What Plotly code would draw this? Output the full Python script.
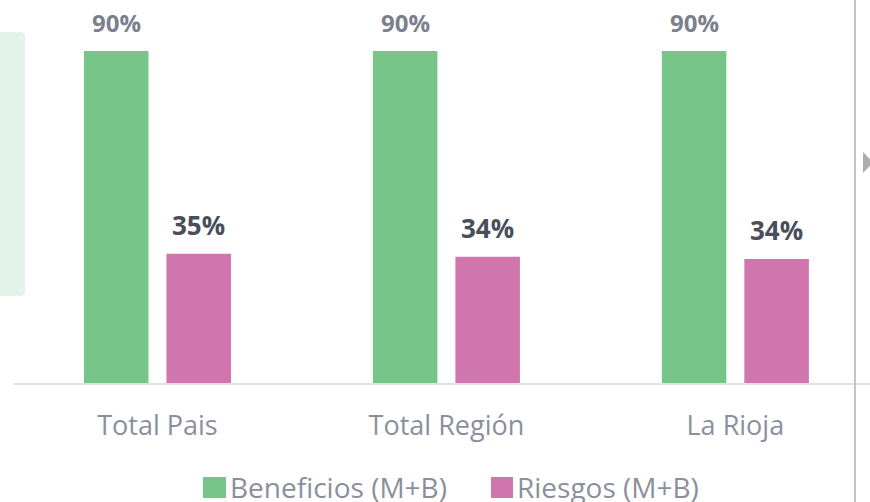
import plotly.graph_objects as go

# ---- data ----
categories = ["Total Pais", "Total Región", "La Rioja"]
beneficios = [90, 90, 90]
riesgos = [35.0, 34.2, 33.6]
series_names = ["Beneficios (M+B)", "Riesgos (M+B)"]

# ---- style ----
W, H = 870, 502
ML, MR, MT, MB = 13, 0, 0, 119
GREEN = "#78C589"
PINK = "#D175AF"
TICK_COL = "#8B8F9D"
FONT = "Open Sans, Liberation Sans, sans-serif"
BARGAP = 0.4288
GROUPGAP = 0.218
XMAX = 2.466
YMAX = 103.8

PW = W - ML - MR
PH = H - MT - MB


def px(xp):
    return (xp - ML) / PW


def py(yp):
    return (H - MB - yp) / PH


fig = go.Figure()
fig.add_trace(go.Bar(x=categories, y=beneficios, name=series_names[0],
                     marker=dict(color=GREEN, line=dict(width=0)), showlegend=False))
fig.add_trace(go.Bar(x=categories, y=riesgos, name=series_names[1],
                     marker=dict(color=PINK, line=dict(width=0)), showlegend=False))

# value labels above bars
off = (1 - BARGAP) / 4
annotations = []
for i, v in enumerate(beneficios):
    annotations.append(dict(x=i - off, y=v, xref="x", yref="y", text=f"{v:.0f}%",
                            showarrow=False, yanchor="middle", yshift=28,
                            font=dict(family=FONT, size=24, color="#7B808C", weight="bold")))
for i, v in enumerate(riesgos):
    annotations.append(dict(x=i + off, y=v, xref="x", yref="y", text=f"{v:.0f}%",
                            showarrow=False, yanchor="middle", yshift=29,
                            font=dict(family=FONT, size=26, color="#4A4E5A", weight="bold")))

# manual legend
legend_items = [(series_names[0], GREEN, 203, 226), (series_names[1], PINK, 491, 513)]
shapes = []
for name, col, x0, x1 in legend_items:
    shapes.append(dict(type="rect", xref="paper", yref="paper",
                       x0=px(x0), x1=px(x1), y0=py(498), y1=py(477),
                       fillcolor=col, line=dict(width=0)))
    annotations.append(dict(x=px(x1 + 2), y=py(487), xref="paper", yref="paper",
                            text=name, showarrow=False, xanchor="left", yanchor="middle",
                            font=dict(family=FONT, size=28, color=TICK_COL)))

# left panel (rounded right corners)
r_x = 5 / PW
r_y = 5 / PH
lx0, lx1 = px(-20), px(25)
ly0, ly1 = py(296), py(32)
panel_path = (f"M{lx0},{ly1} L{lx1 - r_x},{ly1} Q{lx1},{ly1} {lx1},{ly1 - r_y} "
              f"L{lx1},{ly0 + r_y} Q{lx1},{ly0} {lx1 - r_x},{ly0} L{lx0},{ly0} Z")
shapes.append(dict(type="path", xref="paper", yref="paper", path=panel_path,
                   fillcolor="#E3F3E9", line=dict(width=0), layer="below"))

# right divider line
shapes.append(dict(type="line", xref="paper", yref="paper",
                   x0=px(855), x1=px(855), y0=py(0), y1=py(H),
                   line=dict(color="#C4C4C4", width=2)))
# small triangle
tri = f"M{px(863)},{py(152)} L{px(873)},{py(162.5)} L{px(863)},{py(173)} Z"
shapes.append(dict(type="path", xref="paper", yref="paper", path=tri,
                   fillcolor="#ADADAD", line=dict(width=0)))

fig.update_layout(
    width=W, height=H,
    margin=dict(l=ML, r=MR, t=MT, b=MB, pad=0),
    paper_bgcolor="white", plot_bgcolor="white",
    barmode="group", bargap=BARGAP, bargroupgap=GROUPGAP,
    showlegend=False,
    annotations=annotations,
    shapes=shapes,
    font=dict(family=FONT),
    xaxis=dict(range=[-0.5, XMAX], showgrid=False, zeroline=False,
               showline=True, linecolor="#E2E2E2", linewidth=2,
               ticks="", ticklabelstandoff=18,
               tickfont=dict(family=FONT, size=27, color=TICK_COL),
               fixedrange=True),
    yaxis=dict(range=[0, YMAX], visible=False, showgrid=False, zeroline=False,
               fixedrange=True),
)

fig.write_html("out.html", config={"displayModeBar": False},
               post_script="document.body.style.margin='0';document.body.style.overflow='hidden';")
